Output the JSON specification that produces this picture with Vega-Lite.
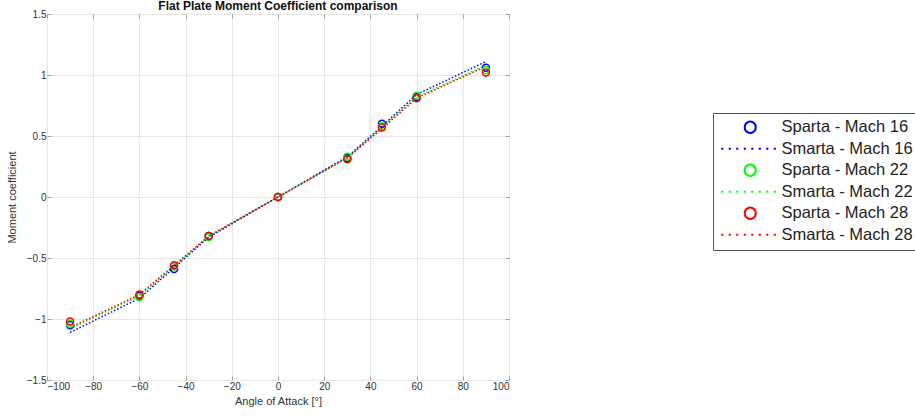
{
  "$schema": "https://vega.github.io/schema/vega-lite/v6.json",
  "autosize": {"type": "none"},
  "padding": {"left": 47, "top": 14, "right": 406, "bottom": 40},
  "width": 462,
  "height": 366,
  "background": "white",
  "title": {"text": "Flat Plate Moment Coefficient comparison", "fontSize": 12, "font": "Liberation Sans", "fontWeight": "bold", "color": "#111", "anchor": "middle", "offset": -13, "baseline": "alphabetic"},
  "config": {
    "view": {"stroke": "#a0a0a0", "strokeWidth": 1},
    "axis": {"labelFont": "Liberation Sans", "titleFont": "Liberation Sans", "labelFontSize": 10, "titleFontSize": 11, "titleFontWeight": "normal", "labelColor": "#333", "titleColor": "#333", "gridColor": "#e6e6e6", "domain": false, "tickColor": "#a0a0a0", "tickSize": -4, "labelPadding": 5},
    "legend": {"symbolSize": 196, "symbolStrokeWidth": 2, "labelFont": "Liberation Sans", "labelFontSize": 16.5, "labelColor": "#222", "labelOffset": 46, "padding": 6, "rowPadding": 4.5, "clipHeight": 16.5, "strokeColor": "#555", "fillColor": "white", "labelLimit": 400}
  },
  "data": {"values": [
    {"type": "Sparta", "series": "Sparta - Mach 16", "alpha": -90, "cm": -1.05},
    {"type": "Sparta", "series": "Sparta - Mach 16", "alpha": -60, "cm": -0.81},
    {"type": "Sparta", "series": "Sparta - Mach 16", "alpha": -45, "cm": -0.59},
    {"type": "Sparta", "series": "Sparta - Mach 16", "alpha": -30, "cm": -0.32},
    {"type": "Sparta", "series": "Sparta - Mach 16", "alpha": 0, "cm": 0.0},
    {"type": "Sparta", "series": "Sparta - Mach 16", "alpha": 30, "cm": 0.32},
    {"type": "Sparta", "series": "Sparta - Mach 16", "alpha": 45, "cm": 0.6},
    {"type": "Sparta", "series": "Sparta - Mach 16", "alpha": 60, "cm": 0.82},
    {"type": "Sparta", "series": "Sparta - Mach 16", "alpha": 90, "cm": 1.06},
    {"type": "Sparta", "series": "Sparta - Mach 22", "alpha": -90, "cm": -1.04},
    {"type": "Sparta", "series": "Sparta - Mach 22", "alpha": -60, "cm": -0.82},
    {"type": "Sparta", "series": "Sparta - Mach 22", "alpha": -45, "cm": -0.57},
    {"type": "Sparta", "series": "Sparta - Mach 22", "alpha": -30, "cm": -0.33},
    {"type": "Sparta", "series": "Sparta - Mach 22", "alpha": 0, "cm": 0.0},
    {"type": "Sparta", "series": "Sparta - Mach 22", "alpha": 30, "cm": 0.33},
    {"type": "Sparta", "series": "Sparta - Mach 22", "alpha": 45, "cm": 0.58},
    {"type": "Sparta", "series": "Sparta - Mach 22", "alpha": 60, "cm": 0.83},
    {"type": "Sparta", "series": "Sparta - Mach 22", "alpha": 90, "cm": 1.04},
    {"type": "Sparta", "series": "Sparta - Mach 28", "alpha": -90, "cm": -1.02},
    {"type": "Sparta", "series": "Sparta - Mach 28", "alpha": -60, "cm": -0.8},
    {"type": "Sparta", "series": "Sparta - Mach 28", "alpha": -45, "cm": -0.56},
    {"type": "Sparta", "series": "Sparta - Mach 28", "alpha": -30, "cm": -0.32},
    {"type": "Sparta", "series": "Sparta - Mach 28", "alpha": 0, "cm": 0.0},
    {"type": "Sparta", "series": "Sparta - Mach 28", "alpha": 30, "cm": 0.31},
    {"type": "Sparta", "series": "Sparta - Mach 28", "alpha": 45, "cm": 0.57},
    {"type": "Sparta", "series": "Sparta - Mach 28", "alpha": 60, "cm": 0.81},
    {"type": "Sparta", "series": "Sparta - Mach 28", "alpha": 90, "cm": 1.02},
    {"type": "Smarta", "series": "Smarta - Mach 16", "alpha": -90, "cm": -1.11},
    {"type": "Smarta", "series": "Smarta - Mach 16", "alpha": -60, "cm": -0.83},
    {"type": "Smarta", "series": "Smarta - Mach 16", "alpha": -45, "cm": -0.58},
    {"type": "Smarta", "series": "Smarta - Mach 16", "alpha": -30, "cm": -0.33},
    {"type": "Smarta", "series": "Smarta - Mach 16", "alpha": 0, "cm": 0.0},
    {"type": "Smarta", "series": "Smarta - Mach 16", "alpha": 30, "cm": 0.33},
    {"type": "Smarta", "series": "Smarta - Mach 16", "alpha": 45, "cm": 0.58},
    {"type": "Smarta", "series": "Smarta - Mach 16", "alpha": 60, "cm": 0.84},
    {"type": "Smarta", "series": "Smarta - Mach 16", "alpha": 90, "cm": 1.11},
    {"type": "Smarta", "series": "Smarta - Mach 22", "alpha": -90, "cm": -1.08},
    {"type": "Smarta", "series": "Smarta - Mach 22", "alpha": -60, "cm": -0.81},
    {"type": "Smarta", "series": "Smarta - Mach 22", "alpha": -45, "cm": -0.57},
    {"type": "Smarta", "series": "Smarta - Mach 22", "alpha": -30, "cm": -0.32},
    {"type": "Smarta", "series": "Smarta - Mach 22", "alpha": 0, "cm": 0.0},
    {"type": "Smarta", "series": "Smarta - Mach 22", "alpha": 30, "cm": 0.32},
    {"type": "Smarta", "series": "Smarta - Mach 22", "alpha": 45, "cm": 0.57},
    {"type": "Smarta", "series": "Smarta - Mach 22", "alpha": 60, "cm": 0.82},
    {"type": "Smarta", "series": "Smarta - Mach 22", "alpha": 90, "cm": 1.08},
    {"type": "Smarta", "series": "Smarta - Mach 28", "alpha": -90, "cm": -1.07},
    {"type": "Smarta", "series": "Smarta - Mach 28", "alpha": -60, "cm": -0.8},
    {"type": "Smarta", "series": "Smarta - Mach 28", "alpha": -45, "cm": -0.56},
    {"type": "Smarta", "series": "Smarta - Mach 28", "alpha": -30, "cm": -0.32},
    {"type": "Smarta", "series": "Smarta - Mach 28", "alpha": 0, "cm": 0.0},
    {"type": "Smarta", "series": "Smarta - Mach 28", "alpha": 30, "cm": 0.32},
    {"type": "Smarta", "series": "Smarta - Mach 28", "alpha": 45, "cm": 0.56},
    {"type": "Smarta", "series": "Smarta - Mach 28", "alpha": 60, "cm": 0.81},
    {"type": "Smarta", "series": "Smarta - Mach 28", "alpha": 90, "cm": 1.07}
  ]},
  "encoding": {
    "color": {"field": "series", "type": "nominal",
      "scale": {"domain": ["Sparta - Mach 16", "Smarta - Mach 16", "Sparta - Mach 22", "Smarta - Mach 22", "Sparta - Mach 28", "Smarta - Mach 28"], "range": ["#0000ff", "#0000ff", "#00ff00", "#00ff00", "#ff0000", "#ff0000"]},
      "legend": {"title": null, "orient": "none", "legendX": 666, "legendY": 99,
        "encode": {
          "symbols": {"update": {
          "shape": [{"test": "indexof(datum.value, 'Sparta') === 0", "value": "M4.071,0A0.786,0.786,0,1,1,2.5,0A0.786,0.786,0,1,1,4.071,0Z"}, {"value": "M-0.857,0h0.3M0.214,0h0.3M1.286,0h0.3M2.357,0h0.3M3.429,0h0.3M4.5,0h0.3M5.571,0h0.3M6.643,0h0.3"}],
          "fill": {"value": "transparent"},
          "stroke": {"scale": "color", "field": "value"},
          "strokeDash": {"value": []},
          "strokeWidth": {"value": 2},
          "opacity": {"value": 1}
        }}}}}
  },
  "resolve": {"axis": {"x": "independent", "y": "independent"}},
  "layer": [
    {
      "transform": [{"filter": {"field": "type", "equal": "Smarta"}}],
      "mark": {"type": "line", "strokeDash": [1.5, 2], "strokeWidth": 1.5},
      "encoding": {
        "x": {"field": "alpha", "type": "quantitative", "scale": {"domain": [-100, 100], "nice": false, "zero": false}, "axis": {"title": "Angle of Attack [°]", "values": [-100, -80, -60, -40, -20, 0, 20, 40, 60, 80, 100], "format": "~f", "titlePadding": 4}},
        "y": {"field": "cm", "type": "quantitative", "scale": {"domain": [-1.5, 1.5], "nice": false, "zero": false}, "axis": {"title": "Moment coefficient", "values": [-1.5, -1, -0.5, 0, 0.5, 1, 1.5], "format": "~f", "titlePadding": 9}}
      }
    },
    {
      "transform": [{"filter": {"field": "type", "equal": "Sparta"}}],
      "mark": {"type": "point", "shape": "circle", "filled": false, "strokeWidth": 1.5, "size": 50, "opacity": 1},
      "encoding": {
        "x": {"field": "alpha", "type": "quantitative", "scale": {"domain": [-100, 100], "nice": false, "zero": false}, "axis": {"orient": "top", "title": null, "labels": false, "grid": false, "values": [-100, -80, -60, -40, -20, 0, 20, 40, 60, 80, 100]}},
        "y": {"field": "cm", "type": "quantitative", "scale": {"domain": [-1.5, 1.5], "nice": false, "zero": false}, "axis": {"orient": "right", "title": null, "labels": false, "grid": false, "values": [-1.5, -1, -0.5, 0, 0.5, 1, 1.5]}}
      }
    }
  ]
}
